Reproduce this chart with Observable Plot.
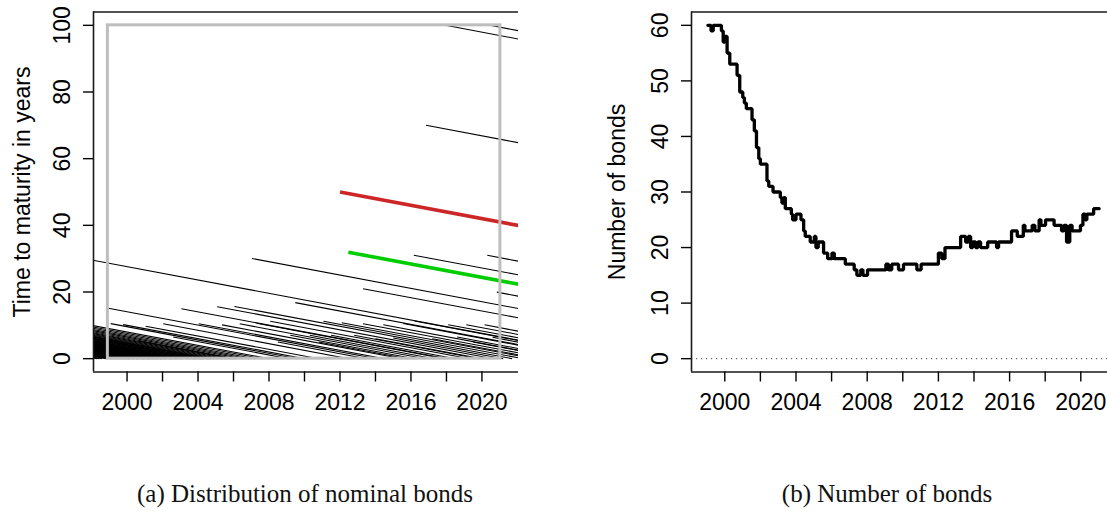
<!DOCTYPE html>
<html><head><meta charset="utf-8">
<script src="https://cdn.jsdelivr.net/npm/d3@7"></script>
<script src="https://cdn.jsdelivr.net/npm/@observablehq/plot@0.6"></script>
<style>
html,body{margin:0;padding:0;background:#fff;}
body{width:1107px;height:523px;overflow:hidden;position:relative;font-family:"Liberation Sans",Arial,sans-serif;}
#pa{position:absolute;left:0;top:0;}
#pb{position:absolute;left:600px;top:0;}
.cap{position:absolute;top:480px;font-family:"Liberation Serif","Times New Roman",serif;font-size:25px;white-space:nowrap;transform:translateX(-50%);color:#111;}
</style></head><body>
<div id="pa"></div><div id="pb"></div>
<div class="cap" style="left:305px">(a) Distribution of nominal bonds</div>
<div class="cap" style="left:887px">(b) Number of bonds</div>
<script>
// ---------- Axis ticks ----------
const xTickYears = [2000, 2002, 2004, 2006, 2008, 2010, 2012, 2014, 2016, 2018, 2020];
const xLabelYears = [2000, 2004, 2008, 2012, 2016, 2020];
const yTicksA = [0, 20, 40, 60, 80, 100];
const yTicksB = [0, 10, 20, 30, 40, 50, 60];
const xDomainA = [1998.11, 2022.06];
const yDomainA = [-4, 104];
const xDomainB = [1998.13, 2021.5];
const yDomainB = [-2.4, 62.4];

// ---------- Panel (a): nominal bonds (issue date, maturity date, decimal years) ----------
const bondIssue = [
  1988.2, 1993.3, 1991.5, 1993.6, 1988.8, 1991.9,
  1989.1, 1994.2, 1992.3, 1989.45, 1994.55, 1987.7, 1991.8, 1994.95,
  1990.05, 1995.15, 1993.25, 1990.4, 1995.55, 1992.65, 1990.8, 1995.9,
  1991.0, 1996.1, 1994.2, 1991.3, 1996.4, 1989.5, 1991.6, 1996.7, 1993.8, 1991.9,
  1992.0, 1997.1, 1992.25, 1995.4, 1992.55, 1997.7, 1992.85,
  1993.0, 1996.15, 1993.35, 1997.55, 1993.75, 1996.9,
  1994.1, 1997.3, 1994.5, 1994.7, 1997.9,
  1995.1, 1995.35, 1995.6, 1995.85,
  1996.15, 1996.5, 1996.85,
  1997.2, 1997.6, 1997.95,
  1989.15, 1992.5, 1990.75, 1994.05, 1991.35, 1993.45, 1990.85, 1995.95, 1992.12, 1994.3,
  1992.65, 1996.45, 1993.08, 1995.28, 1993.62, 1996.05, 1994.42, 1995.78, 1995.48, 1996.3,
  1997.0,
  1998.95, 1999.08, 1999.78, 2000.6, 2001.05, 2002.04, 2002.6, 2003.06, 2004.04,
  2005.08, 2005.36, 2006.05, 2006.35, 2007.04, 2007.3, 2008.07, 2008.5, 2009.2,
  2009.48, 2010.3, 2010.8, 2011.07, 2011.5, 2012.1, 2012.8, 2013.3, 2013.3,
  2014.0, 2014.44, 2015.0, 2015.56, 2016.16, 2016.2, 2016.85, 2017.2, 2017.95,
  2018.1, 2018.6, 2019.12, 2019.5, 2020.15, 2020.3, 2020.45, 2020.6, 2020.84
];
const bondMaturity = [
  1998.15, 1998.3, 1998.45, 1998.6, 1998.8, 1998.95,
  1999.1, 1999.2, 1999.3, 1999.45, 1999.55, 1999.7, 1999.8, 1999.95,
  2000.05, 2000.15, 2000.25, 2000.4, 2000.55, 2000.65, 2000.8, 2000.9,
  2001.0, 2001.1, 2001.2, 2001.3, 2001.4, 2001.5, 2001.6, 2001.7, 2001.8, 2001.9,
  2002.0, 2002.1, 2002.25, 2002.4, 2002.55, 2002.7, 2002.85,
  2003.0, 2003.15, 2003.35, 2003.55, 2003.75, 2003.9,
  2004.1, 2004.3, 2004.5, 2004.7, 2004.9,
  2005.1, 2005.35, 2005.6, 2005.85,
  2006.15, 2006.5, 2006.85,
  2007.2, 2007.6, 2008.0,
  1999.15, 1999.38, 1999.62, 1999.88, 2000.1, 2000.33, 2000.6, 2000.95, 2001.25, 2001.45,
  2001.65, 2001.95, 2002.18, 2002.48, 2002.78, 2003.08, 2003.45, 2003.82, 2004.2, 2004.6,
  2027.6,
  2014.07, 2009.6, 2010.0, 2006.0, 2010.8, 2012.5, 2009.1, 2018.06, 2014.5,
  2020.65, 2015.5, 2021.7, 2016.8, 2037.1, 2017.9, 2019.3, 2013.5, 2016.2,
  2026.3, 2017.3, 2015.8, 2022.3, 2018.5, 2022.9, 2019.8, 2034.3, 2023.8,
  2020.0, 2024.6, 2021.2, 2026.1, 2047.2, 2027.5, 2086.85, 2023.2, 2117.95,
  2028.3, 2025.1, 2029.3, 2024.5, 2030.3, 2051.3, 2120.45, 2027.0, 2040.8
];
// highlighted bonds
const hiIssue = [2012.0, 2012.47];
const hiMaturity = [2062.0, 2044.4];
const hiColor = ["#CD2626", "#00CD00"];
// sample window (grey box)
const windowStart = 1998.92, windowEnd = 2021.04, windowTerm = 100;

// ---------- Panel (b): number of bonds (step series) ----------
const countDates = [
  1999.05, 1999.23, 1999.35, 1999.81, 1999.91, 2000.00, 2000.13, 2000.28, 2000.69, 2000.84,
  2001.01, 2001.10, 2001.21, 2001.53, 2001.66, 2001.78, 2001.91, 2002.00, 2002.37, 2002.47,
  2002.71, 2003.12, 2003.21, 2003.31, 2003.40, 2003.74, 2003.81, 2004.00, 2004.28, 2004.43,
  2004.52, 2004.80, 2005.03, 2005.12, 2005.25, 2005.55, 2005.78, 2006.02, 2006.15, 2006.77,
  2007.27, 2007.42, 2007.64, 2007.76, 2008.02, 2009.05, 2009.20, 2009.38, 2009.76, 2010.04,
  2010.79, 2011.03, 2012.00, 2012.19, 2012.37, 2013.25, 2013.53, 2013.68, 2013.81, 2013.93,
  2014.09, 2014.22, 2014.37, 2014.77, 2015.27, 2015.38, 2016.11, 2016.43, 2016.77, 2016.86,
  2017.27, 2017.42, 2017.66, 2017.76, 2018.02, 2018.50, 2018.92, 2019.05, 2019.20, 2019.38,
  2019.51, 2019.98, 2020.12, 2020.25, 2020.34, 2020.72, 2021.03
];
const countValues = [
  60, 59, 60, 59, 57, 58, 55, 53, 51, 48,
  47, 46, 45, 43, 41, 38, 36, 35, 32, 31,
  30, 29, 28, 29, 27, 26, 25, 26, 25, 23,
  22, 21, 22, 20, 21, 19, 18, 19, 18, 17,
  16, 15, 16, 15, 16, 17, 16, 17, 16, 17,
  16, 17, 19, 18, 20, 22, 21, 22, 20, 21,
  20, 21, 20, 21, 20, 21, 23, 22, 24, 23,
  24, 23, 25, 24, 25, 24, 23, 24, 21, 24,
  23, 24, 26, 25, 26, 27, 27
];
const zeroLine = [0];

// ---------- build tables ----------
const bonds = bondIssue.map((s, i) => ({x1: s, y1: bondMaturity[i] - s, x2: bondMaturity[i], y2: 0}));
const hiBonds = hiIssue.map((s, i) => ({x1: s, y1: hiMaturity[i] - s, x2: hiMaturity[i], y2: 0, c: hiColor[i]}));
const windowBox = [{x1: windowStart, x2: windowEnd, y1: 0, y2: windowTerm}];
const counts = countDates.map((d, i) => ({date: d, n: countValues[i]}));

const fmtYear = d => xLabelYears.includes(d) ? String(d) : "";
const FS = 23;
const frameStroke = "#1a1a1a";

function frameMarks(xd, yd) {
  return [
    Plot.ruleX([xd[0]], {stroke: frameStroke, strokeWidth: 1.6}),
    Plot.ruleY([yd[0], yd[1]], {stroke: frameStroke, strokeWidth: 1.6})
  ];
}

const common = {
  height: 420, marginTop: 11.5, marginBottom: 48.5, marginRight: 0,
  style: {fontFamily: "'Liberation Sans', Arial, sans-serif", fontSize: FS + "px", color: "#000", background: "white", overflow: "visible"}
};

const plotA = Plot.plot({
  ...common,
  width: 518, marginLeft: 93,
  x: {domain: xDomainA},
  y: {domain: yDomainA},
  marks: [
    Plot.link(bonds, {x1: "x1", y1: "y1", x2: "x2", y2: "y2", stroke: "black", strokeWidth: 1.1, clip: true}),
    Plot.link(hiBonds, {x1: "x1", y1: "y1", x2: "x2", y2: "y2", stroke: "c", strokeWidth: 3.6, clip: true}),
    Plot.rect(windowBox, {x1: "x1", x2: "x2", y1: "y1", y2: "y2", fill: "none", stroke: "#BEBEBE", strokeWidth: 3}),
    ...frameMarks(xDomainA, yDomainA),
    Plot.axisX({ticks: xTickYears, tickFormat: fmtYear, tickSize: 10, tickPadding: 11.5, fontSize: FS, label: null, strokeWidth: 1.4}),
    Plot.axisY({ticks: yTicksA, tickFormat: d => String(d), tickSize: 10, tickPadding: 14, tickRotate: -90, fontSize: FS, label: null, strokeWidth: 1.4}),
    Plot.text(["Time to maturity in years"], {frameAnchor: "left", rotate: -90, dx: -64, lineAnchor: "bottom", textAnchor: "middle", fontSize: FS})
  ]
});
document.getElementById("pa").append(plotA);

const plotB = Plot.plot({
  ...common,
  width: 507, marginLeft: 91,
  x: {domain: xDomainB},
  y: {domain: yDomainB},
  marks: [
    Plot.ruleY(zeroLine, {stroke: "#444", strokeWidth: 1, strokeDasharray: "1.2,3.8"}),
    Plot.line(counts, {x: "date", y: "n", curve: "step-after", stroke: "black", strokeWidth: 3.3, strokeLinejoin: "miter"}),
    ...frameMarks(xDomainB, yDomainB),
    Plot.axisX({ticks: xTickYears, tickFormat: fmtYear, tickSize: 10, tickPadding: 11.5, fontSize: FS, label: null, strokeWidth: 1.4}),
    Plot.axisY({ticks: yTicksB, tickFormat: d => String(d), tickSize: 10, tickPadding: 14, tickRotate: -90, fontSize: FS, label: null, strokeWidth: 1.4}),
    Plot.text(["Number of bonds"], {frameAnchor: "left", rotate: -90, dx: -67, lineAnchor: "bottom", textAnchor: "middle", fontSize: FS})
  ]
});
document.getElementById("pb").append(plotB);
</script>
</body></html>
